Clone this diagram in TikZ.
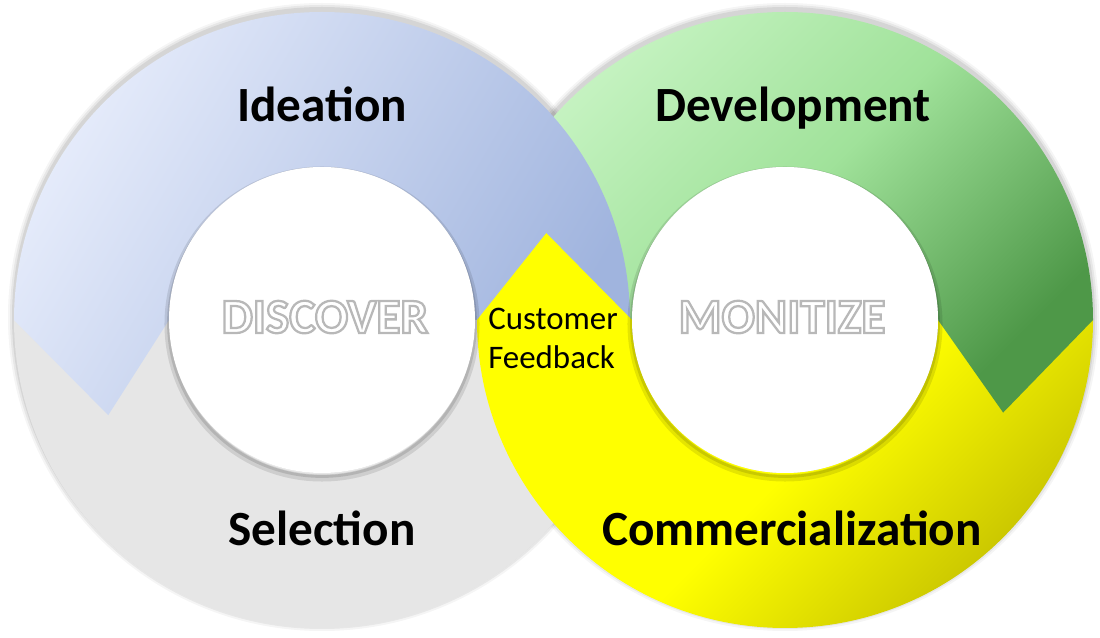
\documentclass[tikz,border=0pt]{standalone}
\usepackage{fontspec}
\setmainfont{Carlito}
\usetikzlibrary{calc}
\definecolor{ideaLight}{RGB}{230,236,251}
\definecolor{ideaDark}{RGB}{160,180,222}
\definecolor{selGray}{RGB}{230,230,230}
\definecolor{devLight}{RGB}{200,244,196}
\definecolor{devMid}{RGB}{160,226,154}
\definecolor{devDark}{RGB}{78,152,72}
\definecolor{comYellow}{RGB}{255,255,0}
\definecolor{comDark}{RGB}{196,192,0}
\newcommand{\ringout}{308}
\newcommand{\ringin}{153}
\newcommand{\outlined}[1]{\special{pdf:literal direct 0.72 G 1.6 w 2 Tr}#1\special{pdf:literal direct 0 Tr}}

\begin{document}
\begin{tikzpicture}[x=0.025cm,y=0.025cm,
  stage/.style={font=\fontsize{35}{42}\selectfont\bfseries, anchor=base, inner sep=0pt},
  phase/.style={stage, text=white},
  note/.style={font=\fontsize{23.4}{27.7}\selectfont, align=left, anchor=west, inner sep=0pt}]
  \useasboundingbox (0,0) rectangle (1100,638);
  \coordinate (L) at (322,318);
  \coordinate (R) at (785,318);
  % Soft shadow behind both rings
  \foreach \c in {L,R}{
    \foreach \d/\o in {6/0.04,4/0.06,2/0.08}
      \fill[black,opacity=\o] ($(\c)+(0,3)$) circle[radius=\ringout+\d];
  }
  % Selection (gray, lower half of left ring)
  \fill[selGray] ($(L)+(180:\ringout)$) arc[start angle=180,end angle=360,radius=\ringout]
    -- ($(L)+(0:\ringin)$) arc[start angle=360,end angle=180,radius=\ringin] -- cycle;
  % Commercialization body (yellow, lower half of right ring)
  \shade[top color=comYellow, bottom color=comDark, middle color=comYellow, shading angle=45]
    ($(R)+(0:\ringout)$) arc[start angle=0,end angle=-180,radius=\ringout]
    -- ($(R)+(180:\ringin)$) arc[start angle=-180,end angle=0,radius=\ringin] -- cycle;
  % Development (green arrow)
  \shade[top color=devLight, bottom color=devDark, middle color=devMid, shading angle=45]
    ($(R)+(180:\ringout)$) arc[start angle=180,end angle=0,radius=\ringout]
    -- ($(R)+(-23:237)$) -- ($(R)+(0:\ringin)$)
    arc[start angle=0,end angle=180,radius=\ringin] -- cycle;
  % Ideation (blue arrow)
  \shade[top color=ideaLight, bottom color=ideaDark, shading angle=60]
    ($(L)+(0:\ringout)$) arc[start angle=0,end angle=180,radius=\ringout]
    -- ($(L)+(204:234)$) -- ($(L)+(180:\ringin)$)
    arc[start angle=180,end angle=0,radius=\ringin] -- cycle;
  % Commercialization head over the crossing
  \fill[comYellow] ($(R)+(180:\ringout)$) -- ($(R)+(160:254)$) -- ($(R)+(180:\ringin)$) -- cycle;
  % Holes with their shadow
  \foreach \c in {L,R}{
    \draw[black,opacity=0.10,line width=5pt] ($(\c)+(0,-4)$) circle[radius=\ringin+1];
    \draw[black,opacity=0.12,line width=2pt] ($(\c)+(0,-3)$) circle[radius=\ringin+0.5];
    \fill[white] (\c) circle[radius=\ringin];
  }
  % Labels
  \node[stage] (ideation) at (322,516) {Ideation};
  \node[stage] (development) at (793,516) {Development};
  \node[stage] (selection) at (322,92) {Selection};
  \node[stage] (commercial) at (792,92) {Commercialization};
  \node[phase] (discover) at (325,305) {\outlined{DISCOVER}};
  \node[phase] (monitize) at (782,305) {\outlined{MONITIZE}};
  \node[note] (feedback) at (488,300) {Customer\\Feedback};
\end{tikzpicture}
\end{document}
